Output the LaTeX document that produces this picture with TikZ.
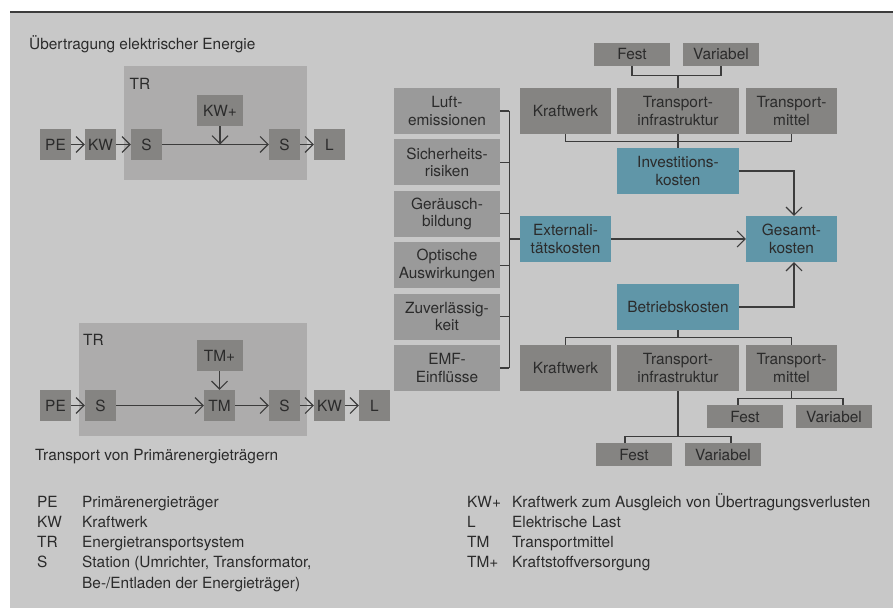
\documentclass[tikz,border=0pt]{standalone}
\usepackage{fontspec}
\setmainfont{TeX Gyre Heros}
\usepackage{tikz}
\usetikzlibrary{arrows.meta}
\definecolor{canvas}{HTML}{C8C8C8}
\definecolor{frame}{HTML}{ADACAC}
\definecolor{block}{HTML}{858482}
\definecolor{impact}{HTML}{9A9A9A}
\definecolor{cost}{HTML}{6096A8}
\definecolor{ink}{HTML}{2B2B2B}
\definecolor{wire}{HTML}{3C3C3C}

\begin{document}
\begin{tikzpicture}[
  x=1pt,
  y=-1pt,
  every node/.style={
    inner sep=0pt,text=ink,font=\fontsize{15.4}{17.7}\selectfont
  },
  unit/.style={
    rectangle,minimum width=31pt,minimum height=31pt,fill=block
  },
  item/.style={rectangle,minimum height=46pt,align=center},
  plant/.style={item,fill=block},
  impactbox/.style={item,fill=impact,minimum width=106pt},
  costbox/.style={item,fill=cost},
  share/.style={
    rectangle,minimum width=76pt,minimum height=23pt,fill=block
  },
  link/.style={draw=wire,line width=1.1pt},
  flow/.style={
    link,-{Straight Barb[length=8pt,width=16pt]}
  },
  caption/.style={anchor=base west}
]
  \useasboundingbox (0,0) rectangle (893,612);
  \fill[white] (0,0) rectangle (893,612);
  \fill[canvas] (10,12) rectangle (893,608);
  \draw[draw=wire,line width=1.2pt] (10,12) -- (893,12);

  \begin{scope}
    \node[caption] (head1) at (29,50) {Übertragung elektrischer Energie};
    \path[fill=frame] (124,66) rectangle (307,180);
    \node[caption] (tr1) at (129.5,89.3) {TR};
    \node[unit] (pe1) at (55.5,144.5) {PE};
    \node[unit] (kw1) at (100.5,144.5) {KW};
    \node[unit] (s1) at (146.5,144.5) {S};
    \node[unit,minimum width=46pt] (kwp) at (220,110.5) {KW+};
    \node[unit] (s2) at (284.5,144.5) {S};
    \node[unit] (l1) at (329.5,144.5) {L};
    \draw[flow] (pe1) -- (kw1);
    \draw[flow] (kw1) -- (s1);
    \draw[flow] (s1) -- (s2);
    \draw[flow] (s2) -- (l1);
    \draw[flow] (kwp) -- (kwp |- s1);
  \end{scope}

  \begin{scope}
    \path[fill=frame] (79,323) rectangle (307,436);
    \node[caption] (tr2) at (83,345.5) {TR};
    \node[unit] (pe2) at (55.5,405.5) {PE};
    \node[unit] (s3) at (100.5,405.5) {S};
    \node[unit,minimum width=46pt] (tmp) at (219.5,355.5) {TM+};
    \node[unit] (tm) at (219.5,405.5) {TM};
    \node[unit] (s4) at (284.5,405.5) {S};
    \node[unit] (kw2) at (329.5,405.5) {KW};
    \node[unit] (l2) at (374.5,405.5) {L};
    \draw[flow] (pe2) -- (s3);
    \draw[flow] (s3) -- (tm);
    \draw[flow] (tmp) -- (tm);
    \draw[flow] (tm) -- (s4);
    \draw[flow] (s4) -- (kw2);
    \draw[flow] (kw2) -- (l2);
    \node[caption] (head2) at (35,460) {Transport von Primärenergieträgern};
  \end{scope}

  % cost tree
  \begin{scope}
    \node[share] (fest1) at (632,54.5) {Fest};
    \node[share] (var1) at (721,54.5) {Variabel};
    \node[plant,minimum width=91pt] (kw3) at (565.5,111) {Kraftwerk};
    \node[plant,minimum width=122pt] (ti1) at (678,111) {Transport-\\infrastruktur};
    \node[plant,minimum width=91pt] (tm3) at (791.5,111) {Transport-\\mittel};
    \node[costbox,minimum width=122pt] (inv) at (678,171) {Investitions-\\kosten};
    \node[costbox,minimum width=91pt] (ext) at (565.5,239) {Externali-\\tätskosten};
    \node[costbox,minimum width=91pt] (ges) at (791.5,239) {Gesamt-\\kosten};
    \node[costbox,minimum width=122pt] (betr) at (678,307) {Betriebskosten};
    \node[plant,minimum width=91pt] (kw4) at (565.5,368) {Kraftwerk};
    \node[plant,minimum width=122pt] (ti2) at (678,368) {Transport-\\infrastruktur};
    \node[plant,minimum width=91pt] (tm4) at (791.5,368) {Transport-\\mittel};
    \node[share] (fest2) at (745,416.5) {Fest};
    \node[share] (var2) at (834,416.5) {Variabel};
    \node[share] (fest3) at (634,454.5) {Fest};
    \node[share] (var3) at (723,454.5) {Variabel};

    \coordinate (j1) at ([yshift=12pt]ti1.north);
    \coordinate (j2) at ([yshift=-7pt]ti1.south);
    \coordinate (j3) at ([yshift=-7pt]betr.south);
    \coordinate (j4) at ([yshift=-7pt]tm4.south);
    \coordinate (j5) at ([yshift=-45pt]ti2.south);
    \draw[link] (fest1) |- (j1) -| (var1);
    \draw[link] (j1) -- (ti1);
    \draw[link] (kw3) |- (j2) -| (tm3);
    \draw[link] (ti1) -- (inv);
    \draw[link] (betr) -- (j3);
    \draw[link] (kw4) |- (j3) -| (tm4);
    \draw[link] (tm4) -- (j4);
    \draw[link] ([xshift=-7pt]fest2.north) |- (j4) -| ([xshift=9pt]var2.north);
    \draw[link] (ti2) -- (j5);
    \draw[link] ([xshift=-9pt]fest3.north) |- (j5) -| ([xshift=8pt]var3.north);
    \draw[flow] (inv) -| ([xshift=2.5pt]ges.north);
    \draw[flow] (betr) -| ([xshift=2.5pt]ges.south);
    \draw[flow] (ext) -- (ges);

    \foreach \txt [count=\i] in {{Luft-\\emissionen},{Sicherheits-\\risiken},
      {Geräusch-\\bildung},{Optische\\Auswirkungen},{Zuverlässig-\\keit},
      {EMF-\\Einflüsse}}
      \node[impactbox] (imp\i) at (447,{111+51.4*(\i-1)}) {\txt};
    \coordinate (bus) at ([xshift=9pt]imp1.east);
    \foreach \i in {1,...,6}
      \draw[link] (imp\i) -- (imp\i -| bus);
    \draw[link] (bus) -- (bus |- imp6);
    \draw[link] (ext) -- (ext -| bus);
  \end{scope}

  % legend
  \begin{scope}
    \foreach \abbr/\desc [count=\i] in {PE/Primärenergieträger,KW/Kraftwerk,
      TR/Energietransportsystem,S/{Station (Umrichter, Transformator,}} {
      \node[caption] (ka\i) at (37,{507+20.3*(\i-1)}) {\abbr};
      \node[caption] (kd\i) at (82,{507+20.3*(\i-1)}) {\desc};
    }
    \node[caption] (kd5) at (82,588.2) {Be-/Entladen der Energieträger)};
    \foreach \abbr/\desc [count=\i] in {KW+/Kraftwerk zum Ausgleich von Übertragungsverlusten,
      L/Elektrische Last,TM/Transportmittel,TM+/Kraftstoffversorgung} {
      \node[caption] (ra\i) at (467,{507+20.3*(\i-1)}) {\abbr};
      \node[caption] (rd\i) at (512,{507+20.3*(\i-1)}) {\desc};
    }
  \end{scope}
\end{tikzpicture}
\end{document}
